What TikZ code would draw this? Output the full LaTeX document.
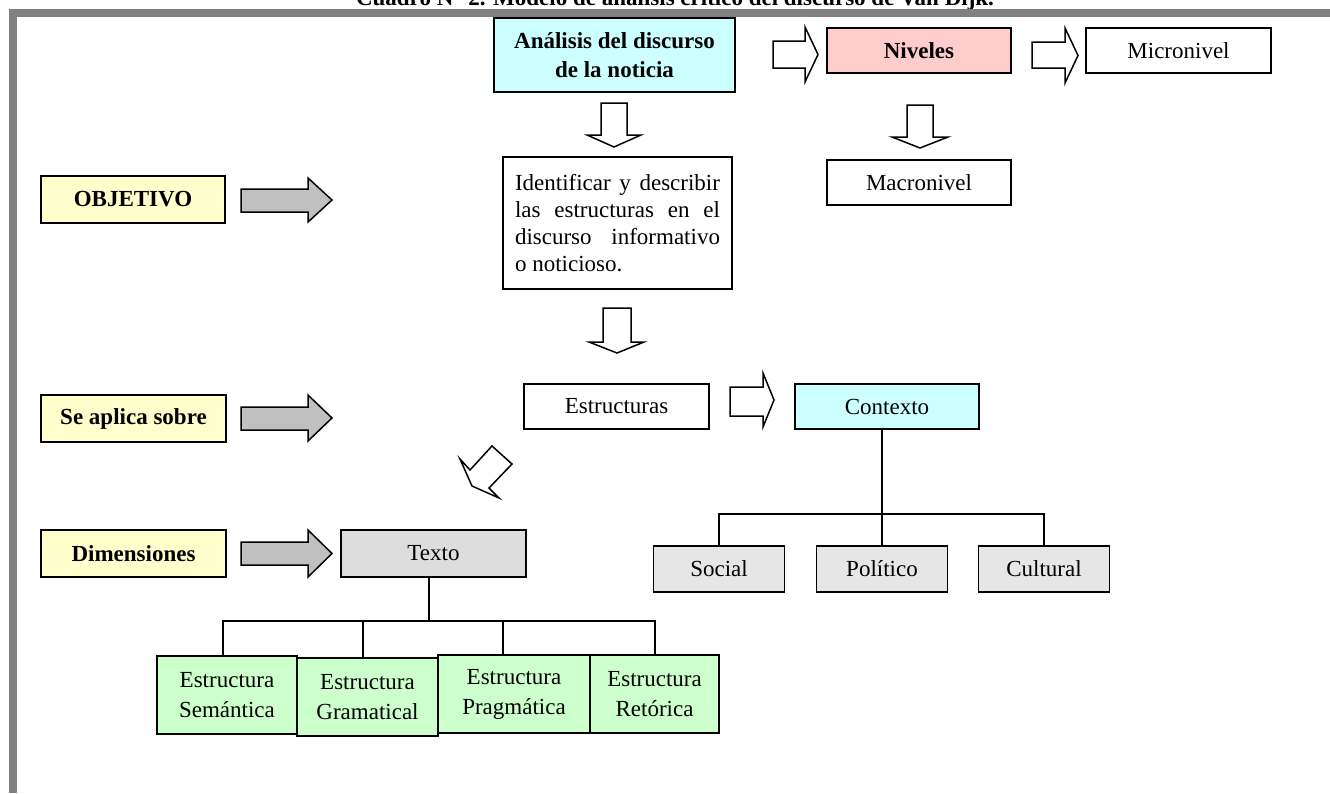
\documentclass[tikz,border=0pt]{standalone}
\usepackage{fontspec}
\setmainfont{Liberation Serif}
\definecolor{cyanbox}{HTML}{CCFFFF}
\definecolor{pinkbox}{HTML}{FFCCCC}
\definecolor{yellowbox}{HTML}{FFFFCC}
\definecolor{greenbox}{HTML}{CCFFCC}
\definecolor{graybox}{HTML}{E6E6E6}
\definecolor{texbox}{HTML}{DDDDDD}
\definecolor{grayarrow}{HTML}{C0C0C0}
\definecolor{framegray}{HTML}{808080}
\tikzset{
  box/.style={draw, line width=1.6pt, inner sep=0pt, align=center, fill=white,
    font=\fontsize{23}{27}\selectfont},
  boldbox/.style={box, font=\fontsize{23}{29}\selectfont\bfseries},
  greenstack/.style={box, fill=greenbox, minimum height=78, font=\fontsize{23}{30}\selectfont},
  hollowarrow/.style={draw, line width=1.5pt, fill=white, line join=miter},
  grayblock/.style={draw, line width=1.5pt, fill=grayarrow, line join=miter},
  treeline/.style={line width=1.5pt},
}
\begin{document}
\begin{tikzpicture}[x=1pt,y=-1pt]
\useasboundingbox (0,0) rectangle (1330,793);
\clip (0,0) rectangle (1330,793);
\fill[white] (0,0) rectangle (1330,793);
% title (partly cut off at the top)
\node[anchor=base, font=\fontsize{23}{26}\selectfont\bfseries] (title) at (675,5)
  {Cuadro N° 2. Modelo de análisis crítico del discurso de Van Dijk.};
% frame
\fill[framegray] (9,9) rectangle (1330,17);
\fill[framegray] (9,9) rectangle (17,793);

% top row
\node[boldbox, fill=cyanbox, minimum width=241, minimum height=74] (ana) at (614.5,55)
  {Análisis del discurso\\de la noticia};
\node[boldbox, fill=pinkbox, minimum width=184, minimum height=45] (niv) at (919,50.5) {Niveles};
\node[box, minimum width=185, minimum height=45] (mic) at (1178.5,50.5) {Micronivel};
\node[box, minimum width=184, minimum height=45] (mac) at (919,182.5) {Macronivel};
\node[box, minimum width=229, minimum height=132, text width=205, align=justify,
  font=\fontsize{23}{27}\selectfont] (ide) at (617.5,223)
  {Identificar y describir\linebreak las estructuras en el\linebreak discurso informativo\linebreak o noticioso.};

% left labels
\node[boldbox, fill=yellowbox, minimum width=184, minimum height=47] (obj) at (133,199.5) {OBJETIVO};
\node[boldbox, fill=yellowbox, minimum width=185, minimum height=47] (sea) at (133.5,418.5) {Se aplica sobre};
\node[boldbox, fill=yellowbox, minimum width=185, minimum height=47] (dim) at (133.5,553.5) {Dimensiones};

% middle
\node[box, minimum width=185, minimum height=45] (est) at (616.5,406.5) {Estructuras};
\node[box, fill=cyanbox, minimum width=184, minimum height=45] (con) at (887,406.5) {Contexto};
\node[box, fill=texbox, minimum width=185, minimum height=47] (tex) at (433.5,553.5) {Texto};

% contexto children
\node[box, fill=graybox, minimum width=131, minimum height=46] (soc) at (719,569) {Social};
\node[box, fill=graybox, minimum width=131, minimum height=46] (pol) at (882,569) {Político};
\node[box, fill=graybox, minimum width=131, minimum height=46] (cul) at (1044,569) {Cultural};

% texto children
\node[greenstack, minimum width=140] (sem) at (227,695) {Estructura\\Semántica};
\node[greenstack, minimum width=141] (gra) at (367.5,697) {Estructura\\Gramatical};
\node[greenstack, minimum width=152] (pra) at (514,694) {Estructura\\Pragmática};
\node[greenstack, minimum width=129] (ret) at (654.5,694) {Estructura\\Retórica};

% tree lines
\coordinate (cjn) at (882,514);
\draw[treeline] (con.south -| cjn) -- (cjn);
\draw[treeline] (soc.north) |- (cjn) -| (cul.north);
\draw[treeline] (pol.north) -- (cjn);
\coordinate (tjn) at (429,621);
\draw[treeline] (tex.south -| tjn) -- (tjn);
\draw[treeline] ([xshift=-4pt]sem.north) |- (tjn) -| ([xshift=0.5pt]ret.north);
\draw[treeline] ([xshift=-4.5pt]gra.north) -- ([xshift=-4.5pt]gra.north |- tjn);
\draw[treeline] ([xshift=-11pt]pra.north) -- ([xshift=-11pt]pra.north |- tjn);

% hollow block arrows
\draw[hollowarrow] (773,41) -- (805,41) -- (805,27) -- (818,54.5) -- (805,82) -- (805,68) -- (773,68) -- cycle;
\draw[hollowarrow] (1032,42) -- (1065,42) -- (1065,28) -- (1078,55.5) -- (1065,83) -- (1065,68) -- (1032,68) -- cycle;
\draw[hollowarrow] (601,103) -- (601,135) -- (587,135) -- (614,147) -- (641,135) -- (627,135) -- (627,103) -- cycle;
\draw[hollowarrow] (907,105) -- (907,137) -- (892,137) -- (920,148) -- (948,137) -- (933,137) -- (933,105) -- cycle;
\draw[hollowarrow] (603,308) -- (603,342) -- (589,342) -- (617,353) -- (644,342) -- (631,342) -- (631,308) -- cycle;
\draw[hollowarrow] (730,387) -- (763,387) -- (763,373) -- (774,400) -- (763,427) -- (763,416) -- (730,416) -- cycle;
\draw[hollowarrow] (492,446) -- (512,464) -- (489,488) -- (499,498) -- (472,486) -- (460,459) -- (470,470) -- cycle;

% gray block arrows
\draw[grayblock] (241,189) -- (308,189) -- (308,178) -- (332,200) -- (308,222) -- (308,212) -- (241,212) -- cycle;
\draw[grayblock] (241,407) -- (308,407) -- (308,395) -- (332,418) -- (308,441) -- (308,430) -- (241,430) -- cycle;
\draw[grayblock] (241,542) -- (308,542) -- (308,530) -- (332,553.5) -- (308,577) -- (308,565) -- (241,565) -- cycle;
\end{tikzpicture}
\end{document}
